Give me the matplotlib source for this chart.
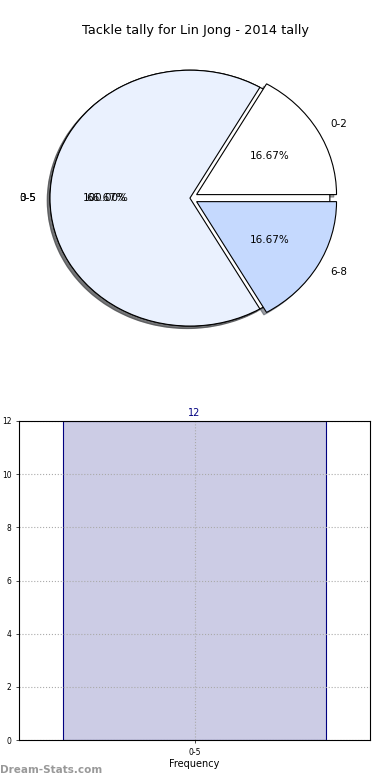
import matplotlib
matplotlib.use("Agg")
import matplotlib.pyplot as plt

TITLE = "Tackle tally for Lin Jong - 2014 tally"

# pie: overall range behind, split ranges on top
total_labels = ["0-5"]
total_values = [12]
split_labels = ["0-2", "3-5", "6-8"]
split_values = [2, 8, 2]
split_explode = [0.055, 0, 0.055]
pie_colors = ["#ffffff", "#eaf1fe", "#c5d9fe"]

# bar chart
bar_cats = ["0-5"]
bar_vals = [12]

fig = plt.figure(figsize=(3.9, 7.8), dpi=100)

# ---- pie ----
ax1 = fig.add_axes([0.0385, 0.541, 0.897, 0.410])
wp = {"edgecolor": "black", "linewidth": 0.8}
tp = {"fontsize": 7.5}
shd = {"ox": -0.014, "oy": -0.014}
ax1.pie(total_values, labels=total_labels, autopct="%1.2f%%", colors=pie_colors,
        shadow=shd, wedgeprops=wp, textprops=tp)
ax1.pie(split_values, labels=split_labels, autopct="%1.2f%%", colors=pie_colors,
        explode=split_explode, shadow=shd, wedgeprops=wp, textprops=tp)
ax1.set_aspect("auto")
ax1.set_xlim(-1.25, 1.25)
ax1.set_ylim(-1.25, 1.25)
fig.text(0.5, 0.961, TITLE, ha="center", va="center", fontsize=9.3)

# ---- bar ----
ax2 = fig.add_axes([19/390, 40/780, 351/390, 319/780])
x = list(range(len(bar_cats)))
ax2.bar(x, bar_vals, width=0.75, color="#ccccE5", edgecolor="navy", linewidth=0.8)
for xi, v in zip(x, bar_vals):
    ax2.text(xi, v + 0.12, str(v), ha="center", va="bottom", color="navy", fontsize=7)
ax2.set_xlim(-0.5, 0.5)
ax2.set_ylim(0, 12)
ax2.set_xticks(x)
ax2.set_xticklabels(bar_cats)
ax2.set_yticks(range(0, 13, 2))
ax2.tick_params(labelsize=5.5, length=2, width=0.5)
ax2.grid(True, linestyle=":", color="#aaaaaa", linewidth=0.8)
ax2.set_xlabel("Frequency", fontsize=7, labelpad=2)
ax2.set_ylabel("Stat Mean Vals", fontsize=6.5, labelpad=6)

fig.text(0.0, 0.013, "Dream-Stats.com", ha="left", va="center", fontsize=7.5,
         color="#999999", fontweight="bold")

fig.savefig("out.png", dpi=100)
